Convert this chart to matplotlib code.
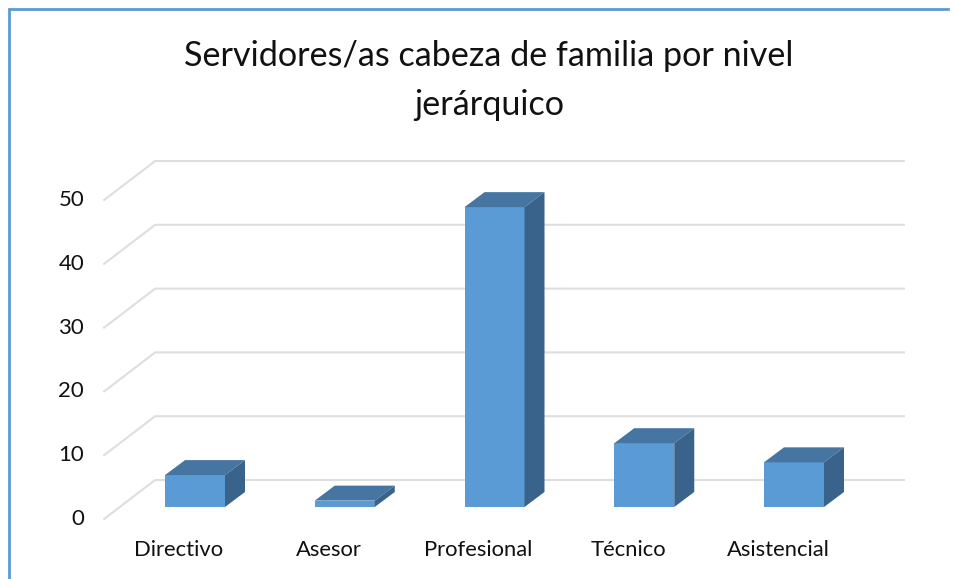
import matplotlib
matplotlib.use("Agg")
import matplotlib.pyplot as plt
from matplotlib.patches import Polygon

plt.rcParams["font.family"] = ["Lato", "DejaVu Sans"]

title_lines = ["Servidores/as cabeza de familia por nivel", "jerárquico"]
categories = ["Directivo", "Asesor", "Profesional", "Técnico", "Asistencial"]
values = [5, 1, 47, 10, 7]
y_ticks = [0, 10, 20, 30, 40, 50]

W, H = 959, 579
PX_X = 149.75   # px per category
PX_Y = 6.38     # px per unit
X0, Y0 = 195, 507   # px of first category centre, value 0 at the bars' front

FRONT = "#5b9bd5"
TOP = "#4675a1"
SIDE = "#3a638b"
GRID = "#dedede"
BORDER = "#5b9bd5"
TEXT = "#111111"

# depth of the 3d look, in data units
bar_w = 60 / PX_X
bar_dx = 20 / PX_X
bar_dy = 15 / PX_Y
floor_dx = 51 / PX_X
floor_dy = 39 / PX_Y
floor_x0 = -0.5 - 16 / PX_X
floor_y0 = -12 / PX_Y

fig = plt.figure(figsize=(W / 100, H / 100), dpi=100)
ax = fig.add_axes([0, 0, 1, 1])
ax.set_xlim(-X0 / PX_X, (W - X0) / PX_X)
ax.set_ylim((Y0 - H) / PX_Y, Y0 / PX_Y)
ax.axis("off")

# chart frame
frame_l, frame_t = ax.transData.inverted().transform((9, H - 9))
frame_r = ax.transData.inverted().transform((948, 0))[0]
frame_b = ax.get_ylim()[0]
ax.plot([frame_l, frame_l, frame_r], [frame_b, frame_t, frame_t], color=BORDER, lw=2, solid_joinstyle="miter")

# gridlines: left wall + back wall
for t in y_ticks:
    y = floor_y0 + t
    ax.plot([floor_x0, floor_x0 + floor_dx, floor_x0 + floor_dx + len(categories)],
            [y, y + floor_dy, y + floor_dy], color=GRID, lw=1.5, zorder=1)
    ax.text(floor_x0 - 20 / PX_X, y + 0.0, str(t), ha="right", va="center", fontsize=16, color=TEXT)

for i, (name, v) in enumerate(zip(categories, values)):
    l, r = i - bar_w / 2, i + bar_w / 2
    ax.add_patch(Polygon([(l, 0), (r, 0), (r, v), (l, v)], color=FRONT, lw=0, zorder=3))
    ax.add_patch(Polygon([(l, v), (r, v), (r + bar_dx, v + bar_dy), (l + bar_dx, v + bar_dy)], color=TOP, lw=0, zorder=3))
    ax.add_patch(Polygon([(r, 0), (r + bar_dx, bar_dy), (r + bar_dx, v + bar_dy), (r, v)], color=SIDE, lw=0, zorder=3))
    ax.text(i - 16 / PX_X, -43 / PX_Y, name, ha="center", va="center", fontsize=15.8, color=TEXT)

title_x = (489 - X0) / PX_X
ax.text(title_x, (Y0 - 56) / PX_Y, title_lines[0], ha="center", va="center", fontsize=24.6, color=TEXT)
ax.text(title_x, (Y0 - 105) / PX_Y, title_lines[1], ha="center", va="center", fontsize=24.6, color=TEXT)

fig.savefig("out.png", dpi=100)
